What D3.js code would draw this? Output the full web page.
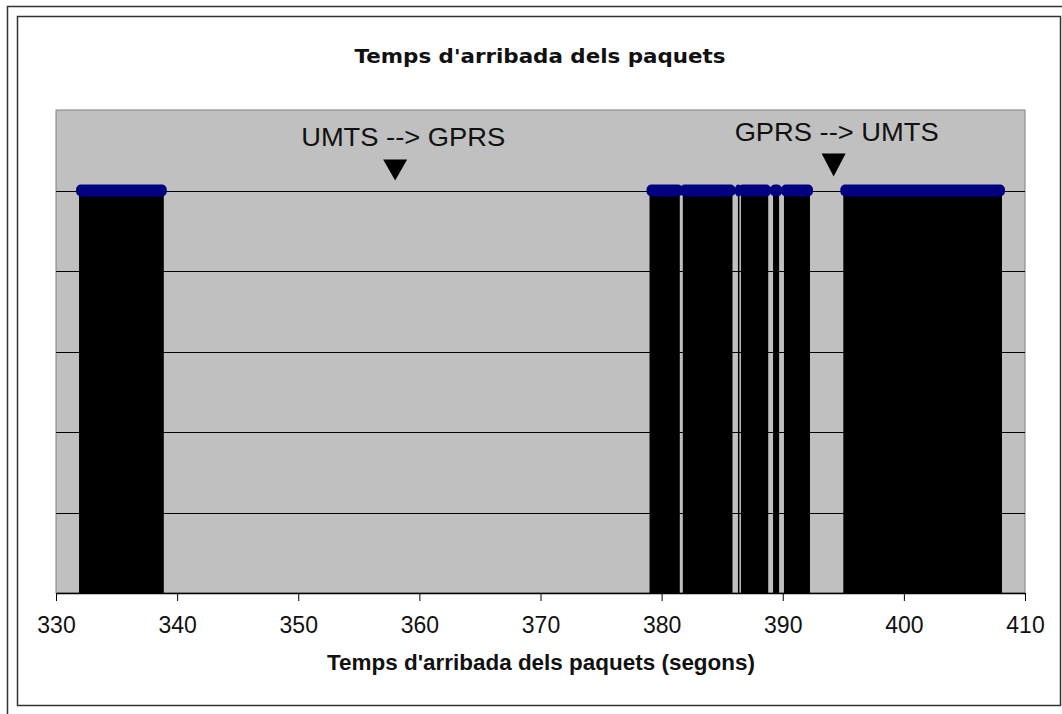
<!DOCTYPE html>
<html>
<head>
<meta charset="utf-8">
<script src="https://cdn.jsdelivr.net/npm/d3@7"></script>
<style>
  body { margin: 0; background: #fff; }
  svg { display: block; }
</style>
</head>
<body>
<svg></svg>
<script>
var width = 1062;
var height = 714;

// packet bursts (arrival times in seconds)
var burstStart = [331.9, 379.0, 381.75, 386.3, 386.55, 389.2, 390.1, 395.0];
var burstEnd   = [338.9, 381.5, 385.85, 386.35, 388.8, 389.7, 392.25, 408.1];

// handover annotations
var eventTime  = [358.0, 394.2];
var eventLabel = ["UMTS --> GPRS", "GPRS --> UMTS"];

var xTicks = [330, 340, 350, 360, 370, 380, 390, 400, 410];
var yTicks = [0.2, 0.4, 0.6, 0.8, 1.0];

var bursts = burstStart.map((s, i) => ({start: s, end: burstEnd[i]}));

var plot = {left: 56, right: 1025, top: 110, bottom: 593};

var xScale = d3.scaleLinear()
    .domain([330, 410])
    .range([plot.left, plot.right]);

var yScale = d3.scaleLinear()
    .domain([0, 1.2])
    .range([plot.bottom, plot.top]);

var svg = d3.select("svg")
    .attr("width", width)
    .attr("height", height);

// window frame
svg.append("path")
    .attr("d", "M7.5," + height + "V6.5H" + width)
    .attr("fill", "none")
    .attr("stroke", "#333")
    .attr("stroke-width", 1.5);

svg.append("rect")
    .attr("x", 17.5).attr("y", 16.5)
    .attr("width", 1043).attr("height", 689)
    .attr("fill", "#fff")
    .attr("stroke", "#333")
    .attr("stroke-width", 1.5);

// plot area
svg.append("rect")
    .attr("x", plot.left).attr("y", plot.top)
    .attr("width", plot.right - plot.left)
    .attr("height", plot.bottom - plot.top)
    .attr("fill", "#c0c0c0")
    .attr("stroke", "#808080");

// gridlines
svg.append("g")
    .selectAll("line")
    .data(yTicks)
    .enter()
    .append("line")
        .attr("x1", plot.left)
        .attr("x2", plot.right)
        .attr("y1", d => Math.round(yScale(d)) + 0.5)
        .attr("y2", d => Math.round(yScale(d)) + 0.5)
        .attr("stroke", "#000")
        .attr("stroke-width", 1.2);

// drop lines (packets)
svg.append("g")
    .selectAll("rect")
    .data(bursts)
    .enter()
    .append("rect")
        .attr("x", d => xScale(d.start))
        .attr("y", yScale(1))
        .attr("width", d => Math.max(1.5, xScale(d.end) - xScale(d.start)))
        .attr("height", yScale(0) - yScale(1))
        .attr("fill", "#000");

// markers
svg.append("g")
    .selectAll("rect")
    .data(bursts)
    .enter()
    .append("rect")
        .attr("x", d => xScale(d.start) - 3)
        .attr("y", yScale(1) - 6)
        .attr("width", d => xScale(d.end) - xScale(d.start) + 6)
        .attr("height", 12)
        .attr("rx", 5)
        .attr("fill", "#000080");

// x axis
var xAxis = d3.axisBottom(xScale)
    .tickValues(xTicks)
    .tickSize(8)
    .tickSizeOuter(0)
    .tickPadding(16);

var gx = svg.append("g")
    .attr("transform", "translate(0," + plot.bottom + ")")
    .call(xAxis);

gx.select(".domain").attr("stroke", "#000").attr("stroke-width", 1.5);
gx.selectAll(".tick line").attr("stroke", "#000");
gx.selectAll(".tick text")
    .attr("font-family", "Arial, 'Liberation Sans', sans-serif")
    .attr("font-size", 23)
    .attr("fill", "#111");

// handover markers
var ev = svg.append("g")
    .selectAll("g")
    .data(eventTime)
    .enter()
    .append("g")
        .attr("transform", d => "translate(" + xScale(d) + "," + yScale(1) + ")");

ev.append("path")
    .attr("d", (d, i) => i === 0 ? "M-12,-31H12L0,-10Z" : "M-12,-37H12L0,-14Z")
    .attr("fill", "#000");

ev.append("text")
    .attr("x", (d, i) => i === 0 ? 8 : 3)
    .attr("y", (d, i) => i === 0 ? -45 : -50)
    .attr("text-anchor", "middle")
    .attr("font-family", "Arial, 'Liberation Sans', sans-serif")
    .attr("font-size", 26)
    .attr("textLength", 204)
    .attr("lengthAdjust", "spacingAndGlyphs")
    .attr("fill", "#111")
    .text((d, i) => eventLabel[i]);

// chart title
svg.append("text")
    .attr("x", 540)
    .attr("y", 63)
    .attr("text-anchor", "middle")
    .attr("font-family", "Tahoma, 'DejaVu Sans', sans-serif")
    .attr("font-weight", "bold")
    .attr("font-size", 20)
    .attr("textLength", 371)
    .attr("lengthAdjust", "spacingAndGlyphs")
    .attr("fill", "#111")
    .text("Temps d'arribada dels paquets");

// x axis title
svg.append("text")
    .attr("x", 541)
    .attr("y", 670)
    .attr("text-anchor", "middle")
    .attr("font-family", "Arial, 'Liberation Sans', sans-serif")
    .attr("font-weight", "bold")
    .attr("font-size", 22)
    .attr("textLength", 428)
    .attr("lengthAdjust", "spacingAndGlyphs")
    .attr("fill", "#111")
    .text("Temps d'arribada dels paquets (segons)");
</script>
</body>
</html>
